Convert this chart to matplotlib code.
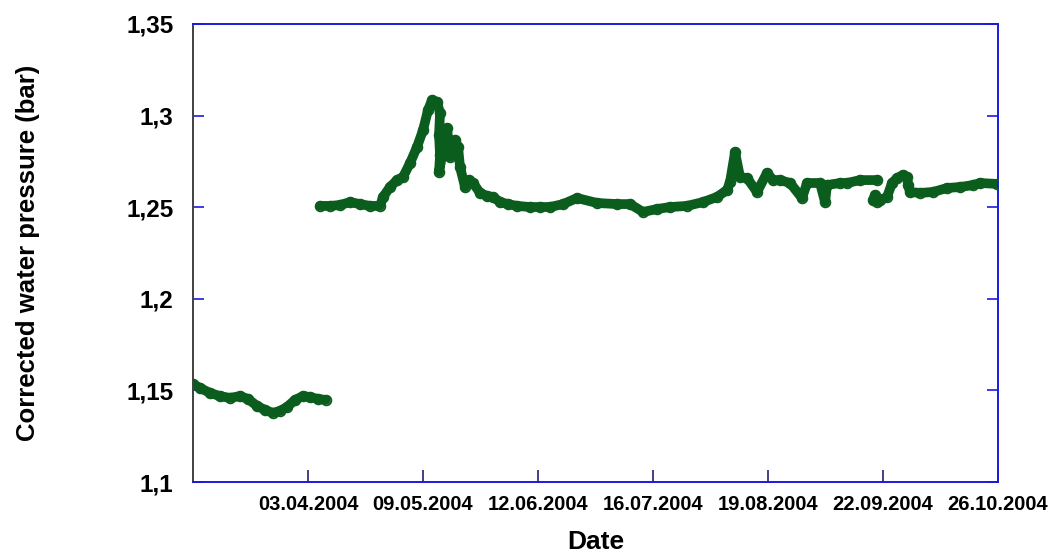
#!/usr/bin/env python3
"""Corrected water pressure time series (Feb - Oct 2004)."""
import numpy as np
import matplotlib
matplotlib.use("Agg")
import matplotlib.pyplot as plt

# x = days since 29.02.2004, y = corrected water pressure (bar)
seg1_days = [0.0, 2.1, 5.1, 8.0, 11.0, 14.0, 16.4, 19.1, 21.5, 23.8, 25.9,
             28.0, 30.4, 32.8, 34.9, 37.3, 39.6]
seg1_bar = [1.1535, 1.1513, 1.1486, 1.1469, 1.1459, 1.1469, 1.1453, 1.1415,
            1.1393, 1.1377, 1.1388, 1.1409, 1.1448, 1.1469, 1.1464, 1.1453,
            1.1448]

seg2_days = [37.86, 40.85, 43.83, 46.81, 49.79, 52.77, 55.75, 56.65, 58.73,
             60.82, 62.61, 64.70, 66.78, 68.57, 70.06, 71.26, 72.75, 73.64,
             73.34, 73.64, 73.34, 74.54, 75.73, 76.62, 78.11, 79.01, 79.60,
             81.09, 82.29, 83.48, 85.57, 87.65, 89.44, 91.53, 93.91, 96.60,
             100.47, 103.45, 106.44, 110.31, 114.49, 120.45, 126.41, 130.29,
             134.16, 138.34, 142.21, 147.28, 152.05, 156.23, 159.21, 160.10,
             161.59, 163.08, 165.17, 168.15, 171.13, 172.92, 175.01, 177.99,
             181.57, 183.06, 186.93, 188.42, 189.02, 192.90, 194.98, 198.86,
             203.93]
seg2_bar = [1.2507, 1.2507, 1.2512, 1.2528, 1.2517, 1.2507, 1.2507, 1.2556,
            1.2610, 1.2648, 1.2665, 1.2741, 1.2829, 1.2921, 1.3031, 1.3085,
            1.3074, 1.3014, 1.2894, 1.2785, 1.2692, 1.2812, 1.2932, 1.2774,
            1.2867, 1.2829, 1.2719, 1.2610, 1.2648, 1.2632, 1.2578, 1.2561,
            1.2556, 1.2528, 1.2517, 1.2507, 1.2501, 1.2501, 1.2501, 1.2517,
            1.2550, 1.2523, 1.2517, 1.2517, 1.2474, 1.2490, 1.2501, 1.2507,
            1.2528, 1.2556, 1.2594, 1.2638, 1.2801, 1.2665, 1.2659, 1.2583,
            1.2687, 1.2648, 1.2648, 1.2632, 1.2550, 1.2632, 1.2632, 1.2528,
            1.2621, 1.2632, 1.2632, 1.2648, 1.2648]

seg3_days = [202.74, 203.33, 203.93, 204.82, 206.91, 208.40, 209.89, 211.68,
             212.87, 213.17, 213.77, 216.75, 220.62, 224.80, 228.67, 232.55,
             234.64, 239.70]
seg3_bar = [1.2539, 1.2567, 1.2528, 1.2539, 1.2556, 1.2632, 1.2659, 1.2676,
            1.2665, 1.2621, 1.2583, 1.2578, 1.2583, 1.2605, 1.2610, 1.2621,
            1.2632, 1.2627]

x_ticklabels = ["03.04.2004", "09.05.2004", "12.06.2004", "16.07.2004",
                "19.08.2004", "22.09.2004", "26.10.2004"]
y_ticks = [1.10, 1.15, 1.20, 1.25, 1.30, 1.35]
y_ticklabels = ["1,1", "1,15", "1,2", "1,25", "1,3", "1,35"]

GREEN = "#0b5d1e"
BLUE = "#1a1ae0"

plt.rcParams["font.family"] = ["Liberation Sans", "DejaVu Sans"]
plt.rcParams["font.weight"] = "bold"

fig = plt.figure(figsize=(10.52, 5.58), dpi=100)
ax = fig.add_axes([0.1835, 0.1362, 0.7652, 0.8208])

for d, p in [(seg1_days, seg1_bar), (seg2_days, seg2_bar), (seg3_days, seg3_bar)]:
    ax.plot(d, p, "-", color=GREEN, lw=7, solid_capstyle="round",
            solid_joinstyle="round", zorder=2)
    ax.plot(d, p, "o", mfc="none", mec=GREEN, mew=1.3, ms=7, zorder=3)

ax.set_xlim(0, 240)
ax.set_ylim(1.1, 1.35)
ax.set_xticks(np.linspace(0, 240, 8)[1:])
ax.set_xticklabels(x_ticklabels, fontsize=14.5, fontweight="bold")
ax.set_yticks(y_ticks)
ax.set_yticklabels(y_ticklabels, fontsize=17.5, fontweight="bold")

ax.tick_params(axis="y", direction="in", length=8, width=1.2, color=BLUE,
               right=True, pad=14)
ax.tick_params(axis="x", direction="in", length=9, width=1.2, color="#202070",
               pad=9)

for side in ["top", "right", "bottom"]:
    ax.spines[side].set_color(BLUE)
    ax.spines[side].set_linewidth(1.4)
ax.spines["left"].set_color("#404040")
ax.spines["left"].set_linewidth(1.4)

ax.set_xlabel("Date", fontsize=19, fontweight="bold")
ax.xaxis.set_label_coords(0.5, -0.105)
ax.set_ylabel("Corrected water pressure (bar)", fontsize=18.5, fontweight="bold")
ax.yaxis.set_label_coords(-0.19, 0.5)

fig.savefig("out.png", dpi=100, facecolor="white")
plt.close(fig)
